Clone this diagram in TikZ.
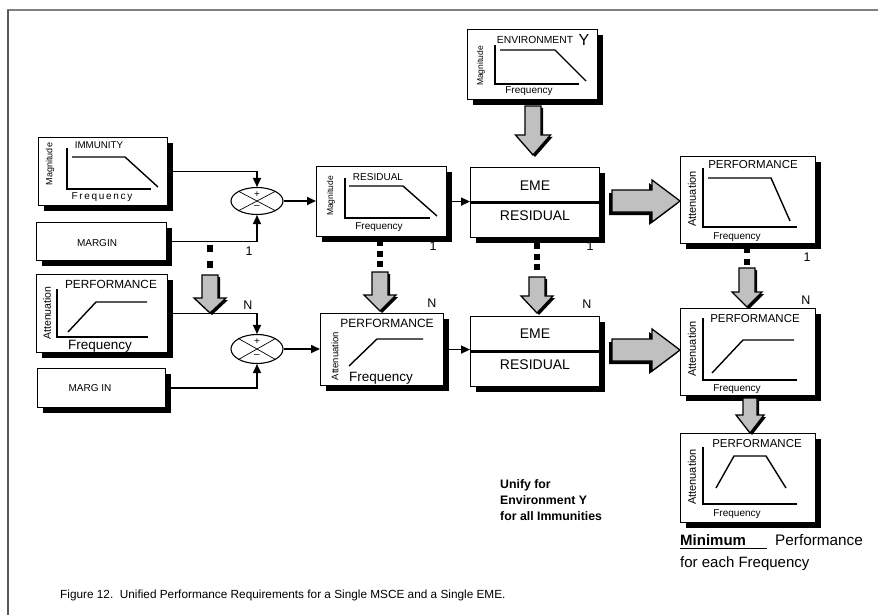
\documentclass[tikz,border=0pt]{standalone}
\usepackage{fontspec}
\setmainfont{Liberation Sans}
\usetikzlibrary{shapes.geometric,shadows,arrows.meta,calc}

\definecolor{blockgray}{HTML}{C0C0C0}
\definecolor{framegray}{HTML}{808080}

\tikzset{
  panel/.style={draw=black, line width=1.1pt, fill=white, inner sep=0pt, anchor=north west,
    drop shadow={shadow xshift=5pt, shadow yshift=-5pt, fill=black, opacity=1}},
  sumjunction/.style={ellipse, draw=black, line width=1.1pt, fill=white, inner sep=0pt,
    minimum width=52pt, minimum height=27pt},
  conn/.style={line width=1.6pt, -{Triangle[length=9pt,width=8pt]}},
  plotline/.style={line width=1.4pt},
  axisline/.style={line width=1.4pt},
  dotline/.style={line width=6.5pt},
  blockarrow/.style={fill=blockgray, draw=black, line width=1.3pt, line join=miter},
  blockshade/.style={fill=black},
  lbl/.style={inner sep=0pt, font=\fontsize{12.5}{12.5}\selectfont},
  ttl/.style={inner sep=0pt},
  ylabel/.style={inner sep=0pt, rotate=90},
}

% vertical block arrow: cx, top, head start, tip, shaft half width, head half width
\newcommand\downblock[6]{%
  \fill[blockshade] (#1-#5+2,#2+2) -- (#1+#5+2,#2+2) -- (#1+#5+2,#3+2) -- (#1+#6+2,#3+2)
     -- (#1+2,#4+2) -- (#1-#6+2,#3+2) -- (#1-#5+2,#3+2) -- cycle;
  \path[blockarrow] (#1-#5,#2) -- (#1+#5,#2) -- (#1+#5,#3) -- (#1+#6,#3)
     -- (#1,#4) -- (#1-#6,#3) -- (#1-#5,#3) -- cycle;
}
% horizontal block arrow: cy, left, head start, tip, shaft half height, head half height
\newcommand\rightblock[6]{%
  \fill[blockshade] (#2-3,#1-#5+3) -- (#3-3,#1-#5+3) -- (#3-3,#1-#6+3) -- (#4-3,#1+3)
     -- (#3-3,#1+#6+3) -- (#3-3,#1+#5+3) -- (#2-3,#1+#5+3) -- cycle;
  \path[blockarrow] (#2,#1-#5) -- (#3,#1-#5) -- (#3,#1-#6) -- (#4,#1)
     -- (#3,#1+#6) -- (#3,#1+#5) -- (#2,#1+#5) -- cycle;
}

\begin{document}
\begin{tikzpicture}[x=1pt,y=-1pt]
\useasboundingbox (0,0) rectangle (878,615);

% page frame
\draw[framegray, line width=2.2pt] (7,10) -- (878,10);
\draw[black!65, line width=1.6pt] (8,10) -- (8,615);

% ---------------- boxes ----------------
\node[panel, minimum width=130pt, minimum height=70pt] (env)   at (467,29) {};
\node[panel, minimum width=129pt, minimum height=68pt] (imm)   at (38,137) {};
\node[panel, minimum width=130pt, minimum height=38pt] (marA)  at (36,222) {};
\node[panel, minimum width=131pt, minimum height=78pt] (perfL) at (36,274) {};
\node[panel, minimum width=128pt, minimum height=39pt] (marB)  at (37,368) {};
\node[panel, minimum width=130pt, minimum height=70pt] (res)   at (316,166) {};
\node[panel, minimum width=123pt, minimum height=72pt] (perfM) at (320,313) {};
\node[panel, minimum width=129pt, minimum height=70pt] (emeA)  at (470,167) {};
\node[panel, minimum width=129pt, minimum height=70pt] (emeB)  at (470,316) {};
\node[panel, minimum width=135pt, minimum height=87pt] (perfA) at (680,156) {};
\node[panel, minimum width=135pt, minimum height=87pt] (perfB) at (680,308) {};
\node[panel, minimum width=135pt, minimum height=89pt] (perfC) at (680,433) {};

% ---------------- environment Y ----------------
\node[ttl, font=\fontsize{10.3}{10.3}\selectfont] (envT) at (535,40) {ENVIRONMENT};
\node[ttl, font=\fontsize{16}{16}\selectfont] (envY) at (584,40) {Y};
\node[ylabel, font=\fontsize{8.5}{8.5}\selectfont] (envM) at (481,66) {Magnitude};
\draw[axisline] (495,45) -- (495,84) -- (579,84);
\draw[plotline] (500,50) -- (555,50) -- (586,81);
\node[ttl, font=\fontsize{10}{10}\selectfont] (envF) at (529,91) {Frequency};

% ---------------- immunity ----------------
\node[ttl, font=\fontsize{9.8}{9.8}\selectfont] (immT) at (99,145) {IMMUNITY};
\node[ylabel, font=\fontsize{9}{9}\selectfont] (immM) at (50,164) {Magnitude};
\draw[axisline] (67,148) -- (67,189) -- (151,189);
\draw[plotline] (72,157) -- (125,157) -- (158,187);
\node[ttl, font=\fontsize{10}{10}\selectfont] (immF) at (102,197) {F\,r\,e\,q\,u\,e\,n\,c\,y};

\node[ttl, font=\fontsize{10}{10}\selectfont] (marAT) at (97,243) {MARGIN};
\node[ttl, font=\fontsize{10}{10}\selectfont] (marBT) at (90,388) {MARG IN};

% ---------------- performance (left) ----------------
\node[ttl, font=\fontsize{11.8}{11.8}\selectfont] (perfLT) at (111,284) {PERFORMANCE};
\node[ylabel, font=\fontsize{10.5}{10.5}\selectfont] (perfLA) at (47,313) {Attenuation};
\draw[axisline] (57,289) -- (57,337) -- (148,337);
\draw[plotline] (68,332) -- (96,302) -- (147,302);
\node[ttl, font=\fontsize{13.5}{13.5}\selectfont] (perfLF) at (100,346) {Frequency};

% ---------------- residual ----------------
\node[ttl, font=\fontsize{10}{10}\selectfont] (resT) at (378,177) {RESIDUAL};
\node[ylabel, font=\fontsize{8.5}{8.5}\selectfont] (resM) at (331,196) {Magnitude};
\draw[axisline] (345,178) -- (345,218) -- (430,218);
\draw[plotline] (349,186) -- (403,186) -- (437,216);
\node[ttl, font=\fontsize{10}{10}\selectfont] (resF) at (379,227) {Frequency};

% ---------------- performance (middle) ----------------
\node[ttl, font=\fontsize{12}{12}\selectfont] (perfMT) at (387,323) {PERFORMANCE};
\node[ylabel, font=\fontsize{9.5}{9.5}\selectfont] (perfMA) at (335,356) {Attenuation};
\draw[plotline] (349,366) -- (377,339) -- (423,339);
\node[ttl, font=\fontsize{13.5}{13.5}\selectfont] (perfMF) at (381,378) {Frequency};

% ---------------- EME / residual ----------------
\node[ttl, font=\fontsize{14}{14}\selectfont] (emeAT) at (535,186) {EME};
\node[ttl, font=\fontsize{14}{14}\selectfont] (emeAR) at (535,216) {RESIDUAL};
\draw[line width=2.8pt] (emeA.west) -- ($(emeA.east)+(5,0)$);
\node[ttl, font=\fontsize{14}{14}\selectfont] (emeBT) at (535,334) {EME};
\node[ttl, font=\fontsize{14}{14}\selectfont] (emeBR) at (535,365) {RESIDUAL};
\draw[line width=2.8pt] (emeB.west) -- ($(emeB.east)+(5,0)$);

% ---------------- performance (right column) ----------------
\node[ttl, font=\fontsize{11.5}{11.5}\selectfont] (perfAT) at (753,165) {PERFORMANCE};
\node[ylabel, font=\fontsize{11}{11}\selectfont] (perfAA) at (692,199) {Attenuation};
\draw[axisline] (703,168) -- (703,227) -- (797,227);
\draw[plotline] (708,178) -- (771,178) -- (790,221);
\node[ttl, font=\fontsize{10}{10}\selectfont] (perfAF) at (737,237) {Frequency};

\node[ttl, font=\fontsize{11.5}{11.5}\selectfont] (perfBT) at (755,319) {PERFORMANCE};
\node[ylabel, font=\fontsize{11}{11}\selectfont] (perfBA) at (692,349) {Attenuation};
\draw[axisline] (703,318) -- (703,380) -- (797,380);
\draw[plotline] (712,373) -- (743,340) -- (794,340);
\node[ttl, font=\fontsize{10}{10}\selectfont] (perfBF) at (737,389) {Frequency};

\node[ttl, font=\fontsize{11.5}{11.5}\selectfont] (perfCT) at (757,444) {PERFORMANCE};
\node[ylabel, font=\fontsize{11}{11}\selectfont] (perfCA) at (692,477) {Attenuation};
\draw[axisline] (703,447) -- (703,504) -- (797,504);
\draw[plotline] (716,488) -- (734,456) -- (766,456) -- (786,488);
\node[ttl, font=\fontsize{10}{10}\selectfont] (perfCF) at (737,514) {Frequency};

% ---------------- summing junctions ----------------
\node[sumjunction] (sumA) at (257,201) {};
\draw[line width=0.7pt] (sumA.north west) -- (sumA.south east) (sumA.north east) -- (sumA.south west);
\node[ttl, font=\fontsize{10}{10}\selectfont] (sumAp) at (257,194.5) {+};
\node[ttl, font=\fontsize{10}{10}\selectfont] (sumAm) at (257,207.5) {\textendash};

\node[sumjunction, minimum height=29pt] (sumB) at (257,349) {};
\draw[line width=0.7pt] (sumB.north west) -- (sumB.south east) (sumB.north east) -- (sumB.south west);
\node[ttl, font=\fontsize{10}{10}\selectfont] (sumBp) at (257,341.5) {+};
\node[ttl, font=\fontsize{10}{10}\selectfont] (sumBm) at (257,356) {\textendash};

% ---------------- signal connectors ----------------
\draw[conn] (imm.east) -| (sumA.north);
\draw[conn] (marA.east) -| (sumA.south);
\draw[conn] (sumA.east) -- (sumA.east -| res.west);
\draw[conn] (res.east) -- (res.east -| emeA.west);
\draw[conn] (perfL.east) -| (sumB.north);
\draw[conn] (marB.east) -| (sumB.south);
\draw[conn] (sumB.east) -- (sumB.east -| perfM.west);
\draw[conn] (perfM.east) -- (perfM.east -| emeB.west);

% ---------------- index labels ----------------
\node[lbl] (iA) at (249,251) {1};
\node[lbl] (iB) at (433,246) {1};
\node[lbl] (iC) at (590,246) {1};
\node[lbl] (iD) at (807,257) {1};
\node[lbl] (nA) at (248,305) {N};
\node[lbl] (nB) at (432,303) {N};
\node[lbl] (nC) at (587,304) {N};
\node[lbl] (nD) at (806,300) {N};

% ---------------- dotted continuation marks ----------------
\draw[dotline, dash pattern=on 7pt off 9pt] (210,244.5) -- (210,267.5);
\draw[dotline, dash pattern=on 6pt off 4.5pt] (380,240) -- (380,267);
\draw[dotline, dash pattern=on 6pt off 4.5pt] (537,243) -- (537,270);
\draw[dotline, dash pattern=on 6pt off 6pt] (747,247) -- (747,265);

% ---------------- block arrows ----------------
\downblock{533}{106}{135}{155}{8}{17.5}
\downblock{210}{275}{298}{313}{8}{16}
\downblock{380}{272}{295}{311}{8}{16}
\downblock{537}{277}{296}{313}{8}{16}
\downblock{747}{268}{292}{307}{8}{15}
\downblock{750}{398}{415}{433}{7}{14}
\rightblock{201}{612}{652}{680}{11}{21}
\rightblock{350}{612}{652}{680}{11}{21}

% ---------------- notes ----------------
\node[inner sep=0pt, anchor=north west, align=left, font=\bfseries\fontsize{12.3}{16}\selectfont] (unify)
  at (500,479) {Unify for\\Environment Y\\for all Immunities};

\node[inner sep=0pt, anchor=base west, font=\bfseries\fontsize{15}{15}\selectfont] (minw) at (680,545) {Minimum};
\draw[line width=0.7pt] (minw.base west) ++(0,3) -- (767,548);
\node[inner sep=0pt, anchor=base west, font=\fontsize{15.3}{15.3}\selectfont] (perfw) at (775,545) {Performance};
\node[inner sep=0pt, anchor=base west, font=\fontsize{15}{15}\selectfont] (eachf) at (680,567) {for each Frequency};

\node[inner sep=0pt, anchor=base west, font=\fontsize{11.8}{11.8}\selectfont] (caption) at (60,598)
  {Figure 12.\ \ Unified Performance Requirements for a Single MSCE and a Single EME.};
\end{tikzpicture}
\end{document}
